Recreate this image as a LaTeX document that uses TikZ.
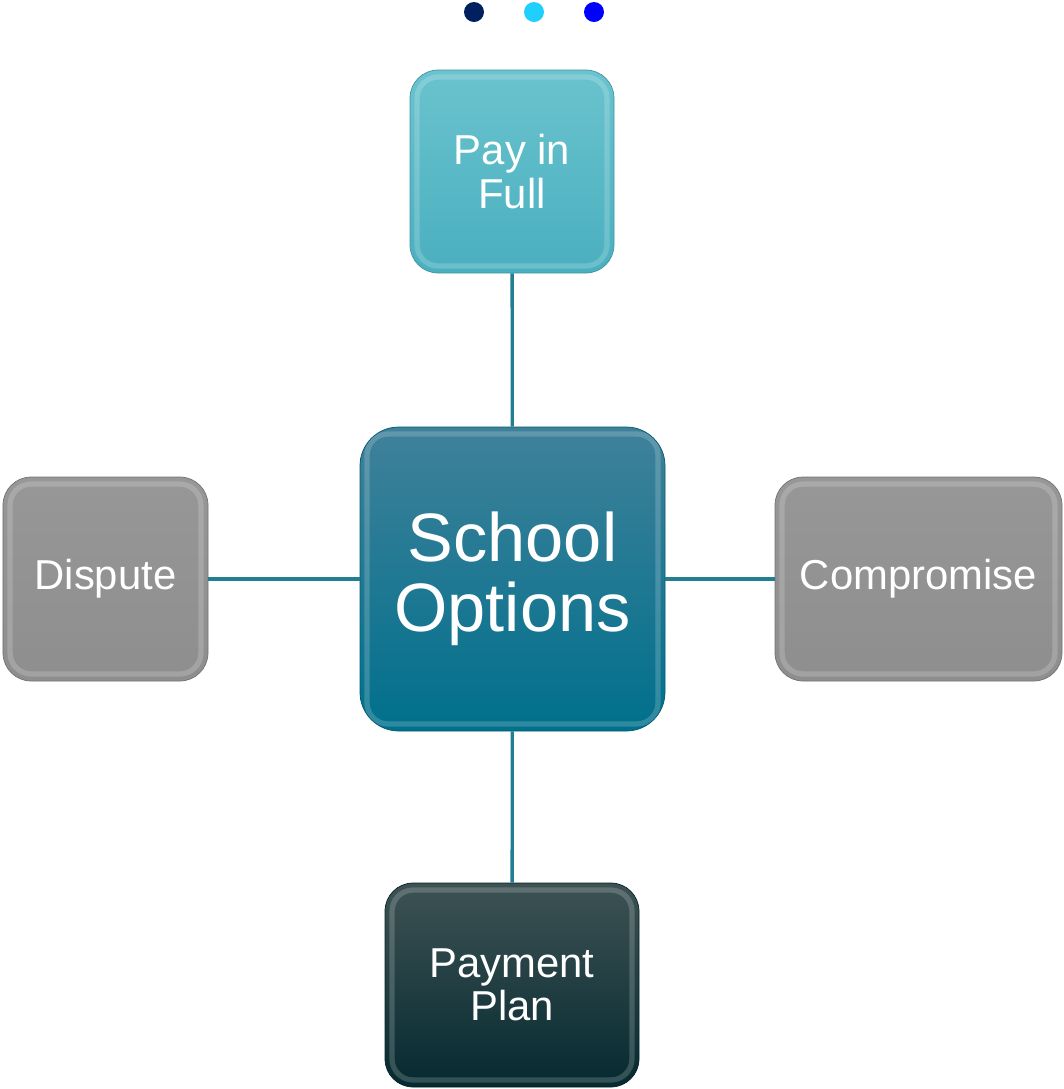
\documentclass[tikz,border=0pt]{standalone}
\usepackage{fontspec}
\setmainfont{Liberation Sans}
\usepackage{tikz}
\usetikzlibrary{positioning}

\definecolor{linkcol}{HTML}{217E93}
\definecolor{dotnavy}{HTML}{002060}
\definecolor{dotcyan}{HTML}{1FD0FF}
\definecolor{dotblue}{HTML}{0000FF}
\definecolor{schooltop}{HTML}{40819A}
\definecolor{schoolbot}{HTML}{00708C}
\definecolor{paytop}{HTML}{6AC3CE}
\definecolor{paybot}{HTML}{4AAFBF}
\definecolor{greytop}{HTML}{979797}
\definecolor{greybot}{HTML}{8E8E8E}
\definecolor{plantop}{HTML}{3E5254}
\definecolor{planbot}{HTML}{052A30}

\tikzset{
  optbox/.style={rounded corners=16pt, inner sep=0pt, align=center, text=white,
    font=\fontsize{23.8}{24.6}\selectfont,
    path picture={\draw[white, opacity=0.18, line width=3pt, rounded corners=12pt]
      ([shift={(4pt,-4pt)}]path picture bounding box.north west) rectangle
      ([shift={(-4pt,4pt)}]path picture bounding box.south east);}},
  link/.style={draw=linkcol, line width=1.9pt}
}

\begin{document}
\begin{tikzpicture}[scale=1]
    % Fissa i margini del disegno
    \useasboundingbox (0,0) rectangle (21.26,-21.78);

    % I tre punti in alto
    \fill[dotnavy] (9.48,-0.24) circle (0.2);
    \fill[dotcyan] (10.68,-0.24) circle (0.2);
    \fill[dotblue] (11.88,-0.24) circle (0.2);

    % Riquadro centrale
    \node[optbox, rounded corners=22pt, minimum width=6.1cm, minimum height=6.08cm,
      top color=schooltop, bottom color=schoolbot, draw=schoolbot!80!black,
      font=\fontsize{39}{39.7}\selectfont] (school) at (10.25,-11.58) {School\\Options};

    % Riquadri delle opzioni
    \node[optbox, minimum width=4.08cm, minimum height=4.06cm,
      top color=paytop, bottom color=paybot, draw=paybot!85!black] (pay) at (10.24,-3.43) {Pay in\\Full};
    \node[optbox, minimum width=4.1cm, minimum height=4.08cm,
      top color=greytop, bottom color=greybot, draw=greybot!80!black] (dispute) at (2.11,-11.58) {Dispute};
    \node[optbox, minimum width=5.74cm, minimum height=4.08cm,
      top color=greytop, bottom color=greybot, draw=greybot!80!black] (compromise) at (18.37,-11.58) {Compromise};
    \node[optbox, minimum width=5.08cm, minimum height=4.08cm,
      top color=plantop, bottom color=planbot, draw=planbot!80!black] (plan) at (10.24,-19.7) {Payment\\Plan};

    % Collegamenti
    \draw[link] (school) -- (pay);
    \draw[link] (school) -- (dispute);
    \draw[link] (school) -- (compromise);
    \draw[link] (school) -- (plan);
\end{tikzpicture}
\end{document}
